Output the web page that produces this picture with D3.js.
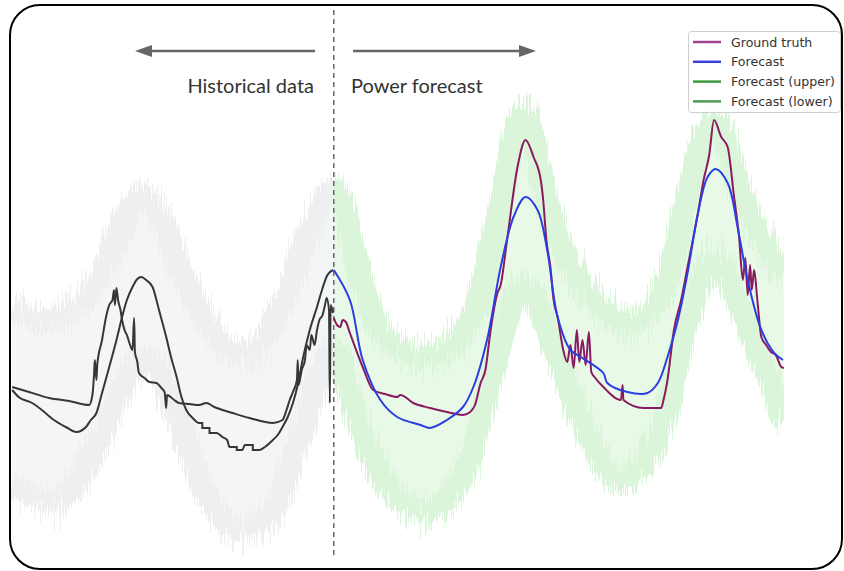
<!DOCTYPE html>
<html><head><meta charset="utf-8">
<script src="https://cdn.jsdelivr.net/npm/d3@7"></script>
<style>html,body{margin:0;padding:0;background:#fff;}svg{display:block;}</style>
</head><body>
<svg id="chart" width="844" height="571"></svg>
<script>
// ---- DATA (time in hours relative to forecast start, value in arbitrary power units) ----
const bandUpperT = [-40.1,-35.5,-30.5,-26.8,-24.3,-21.8,-18,-13,-9.3,-5.5,-2.4,0,3.6,5.8,9.9,14.1,17.4,20.4,23.6,27,29.5,32.4,36.6,40.8,44.1,47.3,51.6,56.1];
const bandUpperV = [50,48,53,65,73,69,54,42,43,55,68,74,55,46,41,42.4,49,68,89,69,59,52,47,53,73,88,70,57];
const bandLowerT = [-40.1,-34.3,-29.3,-25.5,-23,-19.9,-15.5,-11.8,-8,-4.3,0,2,4.9,8.3,12,15.8,19.5,23.6,27.6,30.8,35.8,40.1,44.1,47.4,51.6,56.1];
const bandLowerV = [15,12,24,37,40,30,12,6,9,24,42,33,20,12,10,16,36,55,42,28,16,23,48,60,47,28];

const histTruthT = [-40.1,-38,-35.5,-33,-30.5,-30.1,-29.9,-29.8,-29.6,-29.5,-28.9,-28.4,-28,-27.6,-27.4,-27.3,-27.1,-26.9,-26.6,-26.4,-26.1,-25.8,-25.4,-25.1,-24.9,-24.8,-24.5,-24.3,-23.6,-23,-22.1,-21.5,-21.1,-21,-20.9,-20.8,-19.9,-19.3,-18,-16.8,-15.9,-14.9,-12.6,-10.5,-7.6,-6.4,-5.9,-5.5,-5.1,-4.6,-4.5,-4.4,-4,-3.6,-3.4,-3,-2.8,-2.4,-2.1,-1.8,-1.4,-1.1,-0.9,-0.6,-0.5,-0.4,-0.1];
const histTruthV = [34.6,33.6,32.4,31.8,31,33,37,40,36,39,44,48.6,51,52,54,51,54.4,52,50,48,46,45,43,42,48.4,41.6,39.6,37.4,36.4,35.6,35.4,34.4,33.6,32,30.4,33,32,31.4,31.2,31,31.4,30.6,29.4,28.4,27.4,28,30,32,33.6,36,40,35,38,40,43,42,45,43,46,48,49,51,52.4,50,31.4,51,49.4];

const histModelT = [-40.1,-39.3,-37.6,-36.1,-34.9,-33.4,-32.1,-30.9,-30.3,-29.6,-28.9,-28,-27.1,-26.4,-25.8,-25.1,-24.5,-24,-23.4,-22.6,-21.8,-20.9,-20.3,-19.6,-19,-18.4,-17.6,-16.8,-16.4,-16.4,-15.5,-15.5,-14.6,-13.9,-13.3,-13,-12.1,-12.1,-11.4,-11.1,-10.1,-10.1,-9.3,-8.6,-7.6,-7,-6.4,-5.8,-5.1,-4.5,-3.9,-3,-2.1,-1.4,-0.8,-0.1];
const histModelV = [34,32.6,31.4,29.6,28,26.6,25.6,26.6,28,29.4,33.4,38.6,44,48.6,52,54.6,56.2,56.6,56,54.6,50,44.6,40.6,36.6,32.6,30,28.4,27.4,27.4,26.4,26.4,25.4,25.4,24.6,24,22.6,22.6,22,22,23,23,22,22,22.6,24,25,26.6,28.4,31.4,35,40,46,50.6,54.4,57,58];

const truthT = [0,0.4,0.8,1.1,1.5,2,3.6,4.9,6.4,7.9,8.3,9.9,12,14.1,16.1,17,17.6,18.3,18.9,19.5,20.4,20.8,21.6,22.9,23.9,24.9,25.8,26.1,26.5,27,27.4,27.9,28.6,29.1,29.5,29.9,30.3,30.6,31,31.4,31.8,32.1,32.6,33.6,35.8,36,36.1,38.6,40.8,41.1,41.6,42.4,43.3,44.1,45.4,46.1,46.8,47.4,48.3,49.1,49.9,50.5,51,51.3,51.6,51.9,52.1,52.4,52.8,53.3,53.9,54.5,55.1,55.8,56.1];
const truthV = [48.4,47,46.6,48,47.6,45.4,38.6,34,33.2,32.6,33,31.4,30.4,29.6,29,29.6,31,35.4,38,45.4,53.4,55,64,78.6,84,80.6,76,72,64,58.6,52,48.6,42,39.6,43,38.4,46,39.6,44,39,45.6,37.6,36.4,34.6,32,35,32,30.4,30.4,32,36,46,52,58.6,69.4,76,81,88,84.6,82.6,72.6,65,56,60.4,53,59,54,58,52,44.6,43,41.6,41,38.6,38.4];

const forecastT = [0,2,3.6,5.8,7.9,10.8,12,14.1,16.1,17.4,19.1,20.8,22.4,23.9,25.4,26.6,27.9,29.5,30.8,33.6,34.1,36.6,39.1,40.4,41.6,42.9,44.1,45.4,46.6,47.6,49.1,50.4,51.6,53.3,54.9,56];
const forecastV = [58,52,40,32,28.6,27,26.4,28,30.6,34.6,44,58.6,68.6,72.6,70,62,48.6,42,40.6,37.4,35.4,33.6,33.4,35.4,40.6,48,57.4,69.4,76.6,78.2,75.4,66,56,46,41.4,40];

const legendLabels = ["Ground truth","Forecast","Forecast (upper)","Forecast (lower)"];
const legendColors = ["#a0448f","#3b3fd6","#3d9a3d","#4f9a55"];
const regionLabels = ["Historical data","Power forecast"];

// ---- DRAW ----
const svg = d3.select("#chart");
const x = d3.scaleLinear().domain([-40, 56]).range([13, 783]);
const y = d3.scaleLinear().domain([0, 100]).range([560, 60]);
const pts = (T, V) => T.map((t, i) => [t, V[i]]);

const defs = svg.append("defs");
const f = defs.append("filter").attr("id","noise").attr("x","-5%").attr("y","-30%").attr("width","110%").attr("height","160%");
f.append("feTurbulence").attr("type","fractalNoise").attr("baseFrequency","0.7 0.006").attr("numOctaves",2).attr("seed",7).attr("result","t");
const ct = f.append("feComponentTransfer").attr("in","t").attr("result","t2");
ct.append("feFuncR").attr("type","linear").attr("slope",0).attr("intercept",0.5);
f.append("feDisplacementMap").attr("in","SourceGraphic").attr("in2","t2").attr("scale",55).attr("xChannelSelector","R").attr("yChannelSelector","G");

const t0 = x(0);
defs.append("clipPath").attr("id","histClip").append("rect").attr("x",11).attr("y",0).attr("width",t0-11).attr("height",571);
defs.append("clipPath").attr("id","fcClip").append("rect").attr("x",t0).attr("y",0).attr("width",x(56.1)-t0).attr("height",571);

const lineS = d3.line().x(d => x(d[0])).y(d => y(d[1])).curve(d3.curveCatmullRom);
const lineM = d3.line().x(d => x(d[0])).y(d => y(d[1])).curve(d3.curveMonotoneX);

const up = pts(bandUpperT, bandUpperV), lo = pts(bandLowerT, bandLowerV);
const fillPath = lineS(up) + lineS(lo.slice().reverse()).replace(/^M/, "L") + "Z";

function band(clip, fillCol, ribbonCol) {
  const g = svg.append("g").attr("clip-path", `url(#${clip})`);
  g.append("path").attr("d", fillPath).attr("fill", fillCol);
  const r = g.append("g").attr("filter","url(#noise)");
  [up, lo].forEach(p => r.append("path").attr("d", lineS(p)).attr("fill","none")
    .attr("stroke", ribbonCol).attr("stroke-width", 24));
}
band("histClip", "#f4f5f6", "#eeeff0");
band("fcClip", "#e8f9e8", "#daf5da");

// dashed divider
svg.append("line").attr("x1", t0).attr("x2", t0).attr("y1", 10).attr("y2", 556)
  .attr("stroke","#444").attr("stroke-width",1.2).attr("stroke-dasharray","5,4");

// historical lines
svg.append("path").attr("d", lineM(pts(histModelT, histModelV))).attr("fill","none").attr("stroke","#363636").attr("stroke-width",2);
svg.append("path").attr("d", lineM(pts(histTruthT, histTruthV))).attr("fill","none").attr("stroke","#363636").attr("stroke-width",2);
// forecast lines
svg.append("path").attr("d", lineM(pts(truthT, truthV))).attr("fill","none").attr("stroke","#8a1a60").attr("stroke-width",2);
svg.append("path").attr("d", lineS(pts(forecastT, forecastV))).attr("fill","none").attr("stroke","#2b3ee0").attr("stroke-width",2);

// arrows
const ac = "#666";
svg.append("line").attr("x1",315).attr("x2",150).attr("y1",51).attr("y2",51).attr("stroke",ac).attr("stroke-width",2.5);
svg.append("path").attr("d","M135,51L152,45L152,57Z").attr("fill",ac);
svg.append("line").attr("x1",353).attr("x2",520).attr("y1",51).attr("y2",51).attr("stroke",ac).attr("stroke-width",2.5);
svg.append("path").attr("d","M536,51L519,45L519,57Z").attr("fill",ac);

svg.append("text").attr("x",314).attr("y",93).attr("text-anchor","end").attr("font-family","Lato").attr("font-size",20).attr("fill","#333").text(regionLabels[0]);
svg.append("text").attr("x",351).attr("y",93).attr("font-family","Lato").attr("font-size",20).attr("fill","#333").text(regionLabels[1]);

// legend
const lg = svg.append("g");
lg.append("rect").attr("x",688.5).attr("y",31.5).attr("width",152).attr("height",81).attr("rx",3)
  .attr("fill","#fff").attr("fill-opacity",0.85).attr("stroke","#cfcfcf");
legendLabels.forEach((l, i) => {
  const yy = 42 + i * 19.8;
  lg.append("line").attr("x1",693).attr("x2",721).attr("y1",yy).attr("y2",yy).attr("stroke",legendColors[i]).attr("stroke-width",2.5);
  lg.append("text").attr("x",731).attr("y",yy+4.5).attr("font-family","DejaVu Sans").attr("font-size",12.6).attr("fill","#333").text(l);
});

// frame
svg.append("rect").attr("x",10).attr("y",5).attr("width",832).attr("height",564).attr("rx",30)
  .attr("fill","none").attr("stroke","#000").attr("stroke-width",2);
</script>
</body></html>
